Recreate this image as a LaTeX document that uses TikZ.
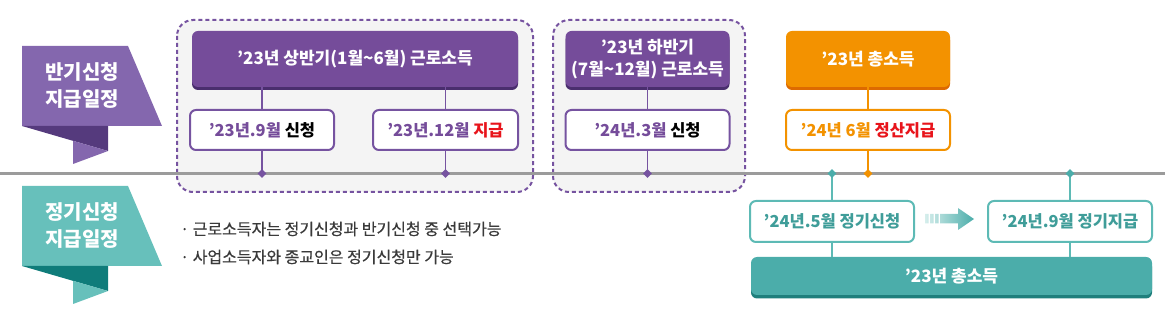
\documentclass[tikz,border=0pt]{standalone}
\usepackage{fontspec}
\setmainfont{Noto Sans CJK KR}
\newfontfamily\notefont{Noto Sans CJK KR}[FakeBold=0.5]
\usetikzlibrary{shapes.geometric}
\definecolor{pmain}{HTML}{754C9A}
\definecolor{pdark}{HTML}{4A2E6E}
\definecolor{pban}{HTML}{8467AE}
\definecolor{pbandark}{HTML}{553A7D}
\definecolor{pline}{HTML}{7653A0}
\definecolor{tmain}{HTML}{4BADAA}
\definecolor{tdark}{HTML}{1F7F7C}
\definecolor{tban}{HTML}{67C0BB}
\definecolor{tbandark}{HTML}{0F7C7A}
\definecolor{tline}{HTML}{5DBAB5}
\definecolor{ttext}{HTML}{3F9D99}
\definecolor{tlight}{HTML}{D6EEEC}
\definecolor{omain}{HTML}{F39200}
\definecolor{odark}{HTML}{DD6A00}
\definecolor{redt}{HTML}{E8141B}
\definecolor{grayline}{HTML}{9B9B9B}
\definecolor{panelfill}{HTML}{F4F4F4}
\definecolor{notetext}{HTML}{3A3A3A}
\begin{document}
\begin{tikzpicture}[x=1pt,y=-1pt,
  topbox/.style={rounded corners=6pt, minimum height=56pt, inner sep=0pt, text=white,
    font=\fontsize{17}{21}\selectfont\bfseries, align=center},
  pshadow/.style={preaction={fill=pdark, transform canvas={yshift=-3pt}}},
  oshadow/.style={preaction={fill=odark, transform canvas={yshift=-3pt}}},
  tshadow/.style={preaction={fill=tdark, transform canvas={yshift=-3.5pt}}},
  smallbox/.style={rounded corners=6pt, line width=2pt, fill=white, minimum height=40pt,
    inner sep=0pt, font=\fontsize{16.5}{20}\selectfont\bfseries},
  panelbox/.style={draw=pline, fill=panelfill, line width=2pt, dash pattern=on 4pt off 3pt,
    rounded corners=16pt},
  conn/.style={line width=1.5pt},
  dia/.style={diamond, minimum size=9pt, inner sep=0pt},
  bantext/.style={text=white, font=\fontsize{20}{27}\selectfont\bfseries, align=center},
  notenode/.style={anchor=west, text=notetext, font=\fontsize{16}{19}\selectfont\notefont, inner sep=0pt}
]
\useasboundingbox (0,0) rectangle (1167,328);

% dashed panels
\draw[panelbox] (177,20) rectangle (533,192);
\draw[panelbox] (553,20) rectangle (745,192);

% timeline
\draw[grayline, line width=2.5pt] (0,173.5) -- (1165,173.5);

% banners
\fill[pban] (22,46) -- (128,46) -- (162,126) -- (22,126) -- cycle;
\fill[pbandark] (22,126) -- (108,126) -- (108,151) -- cycle;
\fill[pban] (73,140.8) -- (108,151) -- (73,164) -- cycle;
\node[bantext] (ban1) at (82,86) {반기신청\\지급일정};

\fill[tban] (22,186) -- (128,186) -- (162,266) -- (22,266) -- cycle;
\fill[tbandark] (22,266) -- (108,266) -- (108,291) -- cycle;
\fill[tban] (73,280.8) -- (108,291) -- (73,304) -- cycle;
\node[bantext] (ban2) at (82,226) {정기신청\\지급일정};

% top boxes
\node[topbox, fill=pmain, pshadow, minimum width=326pt] (t1) at (355,59) {’23년 상반기(1월\textasciitilde6월) 근로소득};
\node[topbox, fill=pmain, pshadow, minimum width=164pt, font=\fontsize{17}{22}\selectfont\bfseries] (t2) at (647.5,59) {’23년 하반기\\(7월\textasciitilde12월) 근로소득};
\node[topbox, fill=omain, oshadow, minimum width=164pt] (to) at (868,59) {’23년 총소득};

% small boxes
\node[smallbox, draw=pline, minimum width=144pt] (s1) at (262,130) {\color{pmain}’23년.9월 \color{black}신청};
\node[smallbox, draw=pline, minimum width=145pt] (s2) at (445.5,130) {\color{pmain}’23년.12월 \color{redt}지급};
\node[smallbox, draw=pline, minimum width=164pt] (s3) at (647.5,130) {\color{pmain}’24년.3월 \color{black}신청};
\node[smallbox, draw=omain, minimum width=164pt] (so) at (868,130) {\color{omain}’24년 6월 \color{redt}정산지급};

% teal boxes
\node[smallbox, draw=tline, text=ttext, minimum width=164pt, minimum height=41pt] (tb1) at (832,221.5) {’24년.5월 정기신청};
\node[smallbox, draw=tline, text=ttext, minimum width=164pt, minimum height=41pt] (tb2) at (1070,221.5) {’24년.9월 정기지급};
\node[topbox, fill=tmain, tshadow, minimum width=401pt, minimum height=38pt] (bar) at (951.5,276) {’23년 총소득};

% timeline coordinates
\coordinate (c1) at (262,173.5);
\coordinate (c2) at (445.5,173.5);
\coordinate (c3) at (647.5,173.5);
\coordinate (c4) at (832,173.5);
\coordinate (c5) at (868,173.5);
\coordinate (c6) at (1070,173.5);

% connectors
\draw[conn, pline] (s1.north) -- (s1.north |- t1.south);
\draw[conn, pline] (s1.south) -- (c1);
\draw[conn, pline] (s2.north) -- (s2.north |- t1.south);
\draw[conn, pline] (s2.south) -- (c2);
\draw[conn, pline] (s3.north) -- (t2.south);
\draw[conn, pline] (s3.south) -- (c3);
\draw[conn, omain] (so.north) -- (to.south);
\draw[conn, omain] (so.south) -- (c5);
\draw[conn, tline] (c4) -- (tb1.north);
\draw[conn, tline] (tb1.south) -- (tb1.south |- bar.north);
\draw[conn, tline] (c6) -- (tb2.north);
\draw[conn, tline] (tb2.south) -- (tb2.south |- bar.north);

% diamonds
\node[dia, fill=pline] (d1) at (c1) {};
\node[dia, fill=pline] (d2) at (c2) {};
\node[dia, fill=pline] (d3) at (c3) {};
\node[dia, fill=tmain] (d4) at (c4) {};
\node[dia, fill=omain] (d5) at (c5) {};
\node[dia, fill=tmain] (d6) at (c6) {};

% arrow between teal boxes
\shade[left color=tlight, right color=tmain]
  (925,214) rectangle (928.5,223.5)
  (930,214) rectangle (933.5,223.5)
  (935,214) rectangle (938.5,223.5)
  (940,214) -- (958,214) -- (958,208) -- (974,219) -- (958,230) -- (958,223.5) -- (940,223.5) -- cycle;

% notes
\node[notenode] (n1) at (180,229) {· 근로소득자는 정기신청과 반기신청 중 선택가능};
\node[notenode] (n2) at (180,257) {· 사업소득자와 종교인은 정기신청만 가능};
\end{tikzpicture}
\end{document}
